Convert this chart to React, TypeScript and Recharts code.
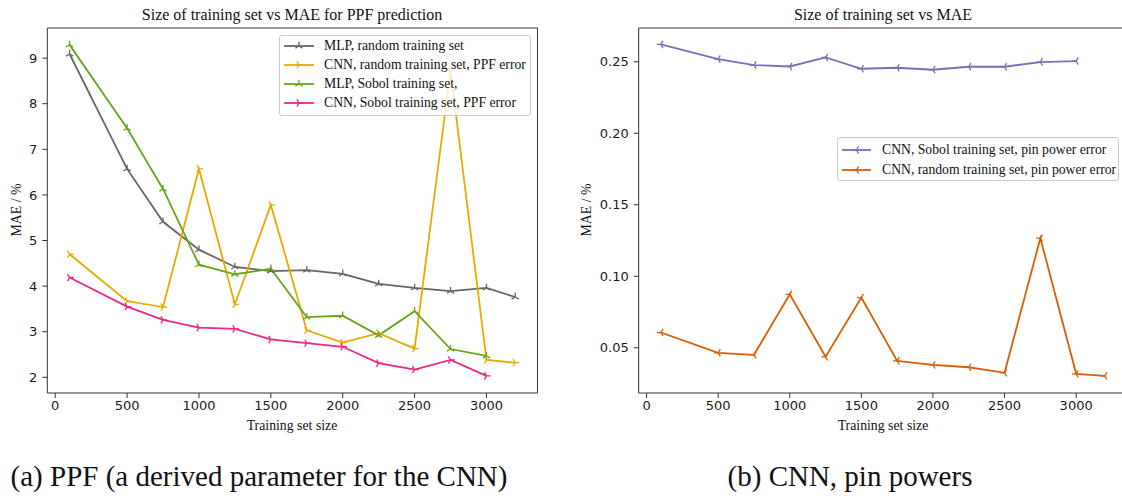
import React from 'react';
import { LineChart, Line, XAxis, YAxis, ReferenceArea } from 'recharts';

// ---- Data ----
const trainingSizes = [100, 500, 750, 1000, 1250, 1500, 1750, 2000, 2250, 2500, 2750, 3000, 3200];

// Left panel: PPF prediction MAE (%)
const mlpRandom = [9.09, 6.57, 5.41, 4.8, 4.42, 4.33, 4.35, 4.27, 4.05, 3.96, 3.89, 3.96, 3.76];
const cnnRandomPPF = [4.7, 3.67, 3.54, 6.57, 3.6, 5.78, 3.03, 2.76, 2.97, 2.63, 8.72, 2.38, 2.32];
const mlpSobol = [9.29, 7.46, 6.13, 4.47, 4.26, 4.38, 3.32, 3.35, 2.92, 3.45, 2.62, 2.47, null];
const cnnSobolPPF = [4.19, 3.55, 3.26, 3.09, 3.06, 2.83, 2.75, 2.67, 2.31, 2.17, 2.38, 2.03, null];

// Right panel: pin power MAE (%)
const cnnSobolPin = [0.2621, 0.2519, 0.2477, 0.2467, 0.253, 0.2451, 0.2458, 0.2444, 0.2465, 0.2465, 0.2498, 0.2505, null];
const cnnRandomPin = [0.0607, 0.0465, 0.0451, 0.0874, 0.0437, 0.0851, 0.0409, 0.0381, 0.0364, 0.0325, 0.1267, 0.0318, 0.0304];

const xTicks = [0, 500, 1000, 1500, 2000, 2500, 3000];
const leftYTicks = [2, 3, 4, 5, 6, 7, 8, 9];
const rightYTicks = [0.05, 0.1, 0.15, 0.2, 0.25];

const leftTitle = 'Size of training set vs MAE for PPF prediction';
const rightTitle = 'Size of training set vs MAE';
const xLabel = 'Training set size';
const yLabel = 'MAE / %';
const captionA = '(a) PPF (a derived parameter for the CNN)';
const captionB = '(b) CNN, pin powers';

const leftSeries = [
  { key: 'mlpRandom', name: 'MLP, random training set', color: '#666666', marker: 'up', values: mlpRandom },
  { key: 'cnnRandomPPF', name: 'CNN, random training set, PPF error', color: '#e6ab02', marker: 'right', values: cnnRandomPPF },
  { key: 'mlpSobol', name: 'MLP, Sobol training set,', color: '#66a61e', marker: 'up', values: mlpSobol },
  { key: 'cnnSobolPPF', name: 'CNN, Sobol training set, PPF error', color: '#e7298a', marker: 'right', values: cnnSobolPPF },
];
const rightSeries = [
  { key: 'cnnSobolPin', name: 'CNN, Sobol training set, pin power error', color: '#7570b3', marker: 'left', values: cnnSobolPin },
  { key: 'cnnRandomPin', name: 'CNN, random training set, pin power error', color: '#d95f02', marker: 'left', values: cnnRandomPin },
];

const buildRows = (series: any[]) =>
  trainingSizes.map((x, i) => {
    const row: any = { x };
    series.forEach((s) => {
      row[s.key] = s.values[i];
    });
    return row;
  });

const leftData = buildRows(leftSeries);
const rightData = buildRows(rightSeries);

// ---- Helpers ----
const SERIF = '"Liberation Serif", "DejaVu Serif", serif';
const SANS = '"DejaVu Sans", sans-serif';

function triPath(cx: number, cy: number, dir: string, r: number) {
  const angles =
    dir === 'up' ? [-90, 30, 150] : dir === 'right' ? [0, 120, 240] : [180, 60, 300];
  return angles
    .map((a) => {
      const rad = (a * Math.PI) / 180;
      return `M${cx},${cy}L${cx + r * Math.cos(rad)},${cy + r * Math.sin(rad)}`;
    })
    .join('');
}

const makeDot = (color: string, dir: string) => (p: any) => {
  const k = `d-${p.index}`;
  if (p.cx == null || p.cy == null || p.value == null || Number.isNaN(p.cy)) return <g key={k} />;
  return <path key={k} d={triPath(p.cx, p.cy, dir, 4.2)} stroke={color} strokeWidth={1.3} fill="none" />;
};

const tickStyle = { fontSize: 13, fill: '#1a1a1a', fontFamily: SANS };

function LegendBox({ series, left, top, width, rowH, firstCenter, handleX, handleW, textX, height }: any) {
  return (
    <div
      style={{
        position: 'absolute',
        left,
        top,
        width,
        height,
        border: '1px solid #cccccc',
        borderRadius: 3,
        background: 'rgba(255,255,255,0.8)',
        boxSizing: 'border-box',
      }}
    >
      {series.map((s: any, i: number) => {
        const cy = firstCenter + i * rowH;
        return (
          <React.Fragment key={s.key}>
            <svg
              width={handleW + 10}
              height={12}
              style={{ position: 'absolute', left: handleX - 5, top: cy - 6, overflow: 'visible' }}
            >
              <line x1={5} y1={6} x2={5 + handleW} y2={6} stroke={s.color} strokeWidth={1.8} />
              <path d={triPath(5 + handleW / 2, 6, s.marker, 4.2)} stroke={s.color} strokeWidth={1.3} fill="none" />
            </svg>
            <div
              style={{
                position: 'absolute',
                left: textX,
                top: cy - 9,
                height: 18,
                lineHeight: '18px',
                fontFamily: SERIF,
                fontSize: 13.7,
                color: '#111',
                whiteSpace: 'nowrap',
              }}
            >
              {s.name}
            </div>
          </React.Fragment>
        );
      })}
    </div>
  );
}

function CenterText({ text, cx, cy, size, rotate }: any) {
  return (
    <div
      style={{
        position: 'absolute',
        left: cx,
        top: cy,
        transform: `translate(-50%, -50%)${rotate ? ` rotate(${rotate}deg)` : ''}`,
        fontFamily: SERIF,
        fontSize: size,
        color: '#111',
        whiteSpace: 'nowrap',
        lineHeight: 1,
      }}
    >
      {text}
    </div>
  );
}

export default function App() {
  const leftDomain: [number, number] = [1.656, 9.66];
  const rightDomain: [number, number] = [0.0184, 0.2736];
  const xDomain: [number, number] = [-55, 3355];

  return (
    <div
      style={{
        position: 'fixed',
        left: 0,
        top: 0,
        width: 1122,
        height: 496,
        overflow: 'hidden',
        background: '#ffffff',
      }}
    >
      {/* Left chart */}
      <div style={{ position: 'absolute', left: 0, top: 0 }}>
        <LineChart width={560} height={496} data={leftData} margin={{ top: 28, right: 22.5, bottom: 73, left: 17.3 }}>
          <XAxis
            dataKey="x"
            type="number"
            domain={xDomain}
            ticks={xTicks}
            allowDataOverflow
            axisLine={false}
            tickLine={{ stroke: '#333' }}
            tickSize={5}
            tickMargin={3}
            tick={tickStyle}
            height={30}
          />
          <YAxis
            type="number"
            domain={leftDomain}
            ticks={leftYTicks}
            allowDataOverflow
            axisLine={false}
            tickLine={{ stroke: '#333' }}
            tickSize={5}
            tickMargin={5}
            tick={tickStyle}
            width={30}
          />
          {leftSeries.map((s) => (
            <Line
              key={s.key}
              dataKey={s.key}
              name={s.name}
              type="linear"
              stroke={s.color}
              strokeWidth={1.8}
              dot={makeDot(s.color, s.marker)}
              activeDot={false}
              isAnimationActive={false}
              connectNulls={false}
            />
          ))}
          <ReferenceArea
            x1={xDomain[0]}
            x2={xDomain[1]}
            y1={leftDomain[0]}
            y2={leftDomain[1]}
            fill="none"
            fillOpacity={0}
            stroke="#333"
            strokeWidth={1}
            ifOverflow="visible"
          />
        </LineChart>
      </div>

      {/* Right chart */}
      <div style={{ position: 'absolute', left: 570, top: 0 }}>
        <LineChart width={570} height={496} data={rightData} margin={{ top: 28, right: 13, bottom: 73, left: 28.7 }}>
          <XAxis
            dataKey="x"
            type="number"
            domain={xDomain}
            ticks={xTicks}
            allowDataOverflow
            axisLine={false}
            tickLine={{ stroke: '#333' }}
            tickSize={5}
            tickMargin={3}
            tick={tickStyle}
            height={30}
          />
          <YAxis
            type="number"
            domain={rightDomain}
            ticks={rightYTicks}
            allowDataOverflow
            axisLine={false}
            tickLine={{ stroke: '#333' }}
            tickSize={5}
            tickMargin={5}
            tick={tickStyle}
            tickFormatter={(v: number) => v.toFixed(2)}
            width={40}
          />
          {rightSeries.map((s) => (
            <Line
              key={s.key}
              dataKey={s.key}
              name={s.name}
              type="linear"
              stroke={s.color}
              strokeWidth={1.8}
              dot={makeDot(s.color, s.marker)}
              activeDot={false}
              isAnimationActive={false}
              connectNulls={false}
            />
          ))}
          <ReferenceArea
            x1={xDomain[0]}
            x2={xDomain[1]}
            y1={rightDomain[0]}
            y2={rightDomain[1]}
            fill="none"
            fillOpacity={0}
            stroke="#333"
            strokeWidth={1}
            ifOverflow="visible"
          />
        </LineChart>
      </div>

      {/* Titles and labels */}
      <CenterText text={leftTitle} cx={292} cy={15} size={16} />
      <CenterText text={rightTitle} cx={883} cy={15} size={16} />
      <CenterText text={xLabel} cx={292} cy={426} size={13.8} />
      <CenterText text={xLabel} cx={883} cy={426} size={13.8} />
      <CenterText text={yLabel} cx={17} cy={210} size={13.8} rotate={-90} />
      <CenterText text={yLabel} cx={587} cy={210} size={13.8} rotate={-90} />

      {/* Legends */}
      <LegendBox
        series={leftSeries}
        left={279}
        top={35}
        width={252}
        height={81}
        rowH={19}
        firstCenter={10}
        handleX={4}
        handleW={30}
        textX={44}
      />
      <LegendBox
        series={rightSeries}
        left={837}
        top={137}
        width={282}
        height={44}
        rowH={20}
        firstCenter={12}
        handleX={4}
        handleW={29}
        textX={44}
      />

      {/* Captions */}
      <CenterText text={captionA} cx={259} cy={476} size={29} />
      <CenterText text={captionB} cx={850} cy={476} size={29} />
    </div>
  );
}
